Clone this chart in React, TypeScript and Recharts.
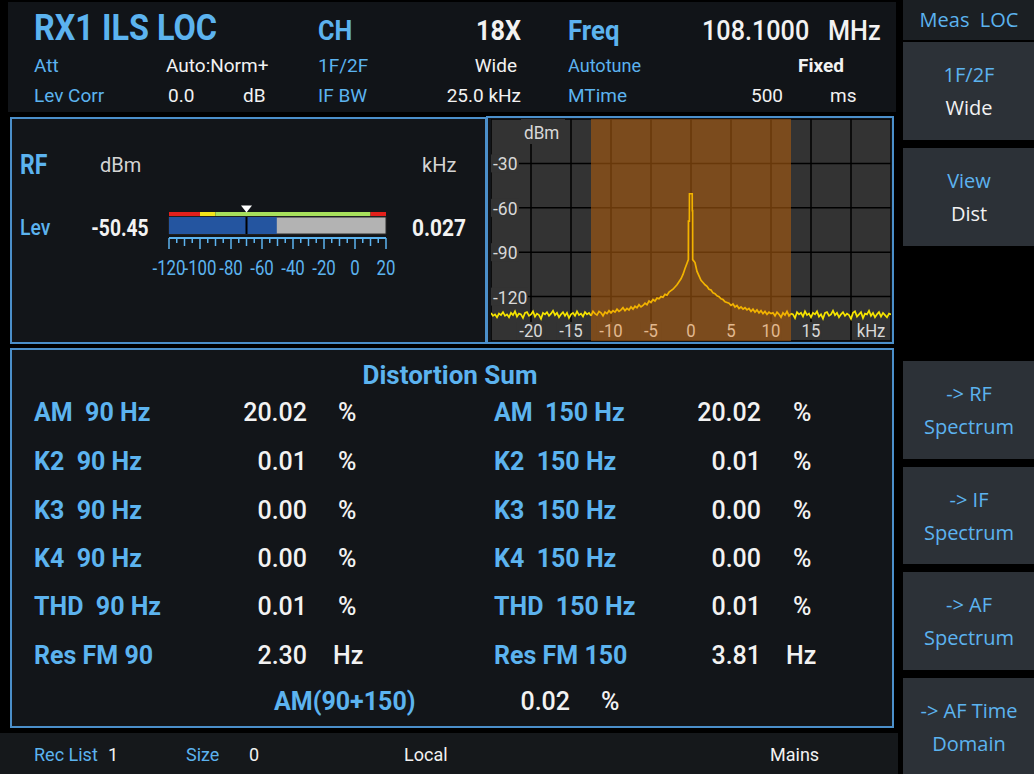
import React from "react";
import {
  LineChart,
  Line,
  XAxis,
  YAxis,
  CartesianGrid,
  ReferenceArea,
  ReferenceLine,
  ReferenceDot,
  ComposedChart,
} from "recharts";

const W = 1034;
const H = 774;
const BLUE = "#5cb3ef";
const WHITE = "#f2f2f2";
const GREY_TXT = "#d4d4d4";
const PANEL = "#121519";
const BORDER = "#4b8fca";
const FONT = "Roboto, 'Noto Sans', sans-serif";
const KEY_FONT = "'Open Sans', 'Noto Sans', sans-serif";

// IF spectrum trace (kHz offset from carrier, dBm)
const traceKHz = [
  -25, -24.75, -24.5, -24.25, -24, -23.75, -23.5, -23.25, -23, -22.75,
  -22.5, -22.25, -22, -21.75, -21.5, -21.25, -21, -20.75, -20.5, -20.25,
  -20, -19.75, -19.5, -19.25, -19, -18.75, -18.5, -18.25, -18, -17.75,
  -17.5, -17.25, -17, -16.75, -16.5, -16.25, -16, -15.75, -15.5, -15.25,
  -15, -14.75, -14.5, -14.25, -14, -13.75, -13.5, -13.25, -13, -12.75,
  -12.5, -12.25, -12, -11.75, -11.5, -11.25, -11, -10.75, -10.5, -10.25,
  -10, -9.75, -9.5, -9.25, -9, -8.75, -8.5, -8.25, -8, -7.75,
  -7.5, -7.25, -7, -6.75, -6.5, -6.25, -6, -5.75, -5.5, -5.25,
  -5, -4.75, -4.5, -4.25, -4, -3.75, -3.5, -3.25, -3, -2.75,
  -2.5, -2.25, -2, -1.75, -1.5, -1.25,
  -1, -0.75, -0.5, -0.33, -0.32, -0.2, -0.19, 0.15, 0.16, 0.2, 0.21, 0.5, 0.75, 1,
  1.25, 1.5, 1.75, 2, 2.25, 2.5, 2.75, 3, 3.25, 3.5,
  3.75, 4, 4.25, 4.5, 4.75, 5, 5.25, 5.5, 5.75, 6,
  6.25, 6.5, 6.75, 7, 7.25, 7.5, 7.75, 8, 8.25, 8.5,
  8.75, 9, 9.25, 9.5, 9.75, 10,
  10.25, 10.5, 10.75, 11, 11.25, 11.5, 11.75, 12, 12.25, 12.5,
  12.75, 13, 13.25, 13.5, 13.75, 14, 14.25, 14.5, 14.75, 15,
  15.25, 15.5, 15.75, 16, 16.25, 16.5, 16.75, 17, 17.25, 17.5,
  17.75, 18, 18.25, 18.5, 18.75, 19, 19.25, 19.5, 19.75, 20,
  20.25, 20.5, 20.75, 21, 21.25, 21.5, 21.75, 22, 22.25, 22.5,
  22.75, 23, 23.25, 23.5, 23.75, 24, 24.25, 24.5, 24.75, 25,
];
const traceDbm = [
  -131, -133, -132, -134, -131.5, -132.5, -130.5, -133, -132, -134,
  -131, -132.5, -130, -133.5, -131.5, -132, -134.5, -131, -130.5, -133,
  -132, -130, -133.5, -131.5, -132.5, -135, -131, -132, -130.5, -133,
  -131.5, -129.5, -132.5, -131, -134, -132, -130.5, -133, -131, -134.5,
  -132, -131, -133, -130, -132.5, -131.5, -133.5, -130.5, -132, -131,
  -133, -130, -131.5, -132.5, -130, -131, -133, -130.5, -131.5, -129.5,
  -131, -129.5, -130.5, -128.5, -130, -129, -127.5, -129.5, -128, -129,
  -127, -128.5, -126.5, -127.5, -125.5, -127, -126, -124.5, -125.5, -123,
  -124, -122, -123, -121, -121.5, -120, -120.5, -118.5, -119, -117,
  -116, -115, -113.5, -112, -110, -108,
  -105, -101, -97.5, -95, -69, -69, -50.5, -50.5, -62, -62, -95, -97, -103, -106,
  -109, -110.5, -112, -113, -115, -115.5, -117.5, -118, -119.5, -120,
  -121.5, -122, -123.5, -124, -124.5, -126, -125, -127, -126, -128,
  -127, -128.5, -127.5, -129, -128, -130, -128.5, -130.5, -129, -131,
  -129.5, -131.5, -130, -132, -130.5, -131.5,
  -131, -133, -130.5, -132, -134, -131, -132.5, -130, -133, -131.5,
  -132, -134.5, -130.5, -132, -131, -133.5, -130, -132.5, -131.5, -134,
  -131, -132, -130, -133.5, -132, -135, -131, -130.5, -133, -132,
  -129.5, -132.5, -131, -134, -132, -130.5, -133, -131.5, -132.5, -135,
  -131, -130, -133.5, -132, -130.5, -134.5, -131.5, -132, -129.5, -133,
  -131, -134, -132, -130.5, -133.5, -131, -132.5, -134, -131.5, -132,
];
const filterBandKHz = [-12.5, 12.5];
const specXTicks = [-20, -15, -10, -5, 0, 5, 10, 15, 20];
const specYTicks = [-30, -60, -90, -120];

// RF level bargraph
const meterLevelDbm = -50.45;
const meterRefDbm = -70;
const meterTicks = [
  -120, -115, -110, -105, -100, -95, -90, -85, -80, -75, -70, -65, -60, -55, -50,
  -45, -40, -35, -30, -25, -20, -15, -10, -5, 0, 5, 10, 15, 20,
];
const meterLimitFrom = [-120, -100, -90, 10];
const meterLimitTo = [-100, -90, 10, 20];
const meterLimitColor = ["#e3201b", "#f2e41a", "#a8e05c", "#e3201b"];

// distortion table
const leftLabels = ["AM  90 Hz", "K2  90 Hz", "K3  90 Hz", "K4  90 Hz", "THD  90 Hz", "Res FM 90"];
const leftValues = ["20.02", "0.01", "0.00", "0.00", "0.01", "2.30"];
const leftUnits = ["%", "%", "%", "%", "%", "Hz"];
const rightLabels = ["AM  150 Hz", "K2  150 Hz", "K3  150 Hz", "K4  150 Hz", "THD  150 Hz", "Res FM 150"];
const rightValues = ["20.02", "0.01", "0.00", "0.00", "0.01", "3.81"];
const rightUnits = ["%", "%", "%", "%", "%", "Hz"];
const rowY = [412, 461, 510, 558, 606, 655];

const softkeys = [
  { top: 42, h: 98, a: "1F/2F", b: "Wide", bc: WHITE },
  { top: 148, h: 98, a: "View", b: "Dist", bc: WHITE },
  { top: 361, h: 98, a: "-> RF", b: "Spectrum", bc: BLUE },
  { top: 467, h: 97, a: "-> IF", b: "Spectrum", bc: BLUE },
  { top: 572, h: 98, a: "-> AF", b: "Spectrum", bc: BLUE },
  { top: 678, h: 96, a: "-> AF Time", b: "Domain", bc: BLUE },
];

const traceRows = traceKHz.map((f, i) => ({
  f,
  outer: f <= filterBandKHz[0] || f >= filterBandKHz[1] ? traceDbm[i] : null,
  inner: f >= filterBandKHz[0] && f <= filterBandKHz[1] ? traceDbm[i] : null,
}));

type TProps = {
  t: string;
  x: number;
  y: number;
  size: number;
  color?: string;
  weight?: number;
  align?: "left" | "right" | "center";
  sx?: number;
  font?: string;
};

function T({ t, x, y, size, color = WHITE, weight = 400, align = "left", sx = 1, font = FONT }: TProps) {
  const st: React.CSSProperties = {
    position: "absolute",
    top: y - size / 2,
    height: size,
    lineHeight: `${size}px`,
    fontSize: size,
    fontFamily: font,
    fontWeight: weight,
    color,
    whiteSpace: "pre",
    transform: `scaleX(${sx})`,
  };
  if (align === "left") {
    st.left = x;
    st.transformOrigin = "left center";
  } else if (align === "right") {
    st.right = W - x;
    st.transformOrigin = "right center";
  } else {
    st.left = x - 300;
    st.width = 600;
    st.textAlign = "center";
    st.transformOrigin = "center center";
  }
  return <div style={st}>{t}</div>;
}

function Box({ x, y, w, h, bg = PANEL, border }: { x: number; y: number; w: number; h: number; bg?: string; border?: string }) {
  return (
    <div
      style={{
        position: "absolute",
        left: x,
        top: y,
        width: w,
        height: h,
        boxSizing: "border-box",
        background: bg,
        border: border ? `2px solid ${border}` : undefined,
      }}
    />
  );
}

const BAND_MIX = "#7b4b1d";
const SPEC_H = 222;

// labels sit inside the plot, on a small box that hides the grid behind them
function SpecXTick(props: any) {
  const { x, payload } = props;
  const v = payload.value;
  const label = v === 20 ? "kHz" : String(v);
  const cx = v === 20 ? x + 20 : x;
  const inBand = v > filterBandKHz[0] && v < filterBandKHz[1];
  const w = label.length * 8.5 + 4;
  return (
    <g>
      <rect x={cx - w / 2} y={SPEC_H - 19} width={w} height={18} fill={inBand ? BAND_MIX : "#333333"} />
      <text
        transform={`translate(${cx},${SPEC_H - 4}) scale(0.88,1)`}
        textAnchor="middle"
        fontSize={19}
        fontFamily={FONT}
        fill={inBand ? "#e2b88e" : "#d8d8d8"}
      >
        {label}
      </text>
    </g>
  );
}

function SpecYTick(props: any) {
  const { y, payload } = props;
  const label = String(payload.value);
  const w = label.length * 9 + 1;
  return (
    <g>
      <rect x={0} y={y - 9} width={w} height={18} fill="#333333" />
      <text transform={`translate(2,${y + 7}) scale(0.92,1)`} fontSize={19} fontFamily={FONT} fill="#d8d8d8">
        {label}
      </text>
    </g>
  );
}

function MeterTick(props: any) {
  const { x, y, payload } = props;
  const v = payload.value;
  const len = v % 20 === 0 ? 11 : v % 10 === 0 ? 8 : 5;
  return (
    <g>
      <line x1={x} x2={x} y1={y} y2={y + len} stroke={BLUE} strokeWidth={1.5} />
      {v % 20 === 0 && (
        <text
          transform={`translate(${x},${y + 37}) scale(0.8,1)`}
          textAnchor="middle"
          fontSize={21}
          fontFamily={FONT}
          fill={BLUE}
        >
          {v}
        </text>
      )}
    </g>
  );
}

function Marker(props: any) {
  const { cx, cy } = props;
  return <polygon points={`${cx - 5.5},${cy - 3.5} ${cx + 5.5},${cy - 3.5} ${cx},${cy + 3.5}`} fill="#ffffff" />;
}

function Spectrum() {
  return (
    <div style={{ position: "absolute", left: 491, top: 119 }}>
      <LineChart width={400} height={SPEC_H} data={traceRows} margin={{ top: 0, right: 0, bottom: 0, left: 0 }}>
        <CartesianGrid fill="#333333" stroke="#000000" strokeWidth={1.5} />
        <ReferenceArea
          x1={filterBandKHz[0]}
          x2={filterBandKHz[1]}
          fill="#a85a10"
          fillOpacity={0.62}
          stroke="none"
        />
        <Line dataKey="outer" stroke="#f6e400" strokeWidth={1.7} dot={false} isAnimationActive={false} />
        <Line dataKey="inner" stroke="#f2b300" strokeWidth={1.7} dot={false} isAnimationActive={false} />
        <XAxis
          dataKey="f"
          type="number"
          domain={[-25, 25]}
          ticks={specXTicks}
          interval={0}
          mirror
          tickSize={0}
          tickMargin={0}
          axisLine={false}
          tickLine={false}
          allowDataOverflow
          tick={(p: any) => <SpecXTick {...p} />}
        />
        <YAxis
          type="number"
          domain={[-150, 0]}
          ticks={specYTicks}
          interval={0}
          mirror
          tickSize={0}
          tickMargin={0}
          axisLine={false}
          tickLine={false}
          allowDataOverflow
          tick={(p: any) => <SpecYTick {...p} />}
        />
      </LineChart>
    </div>
  );
}

function Meter() {
  return (
    <div style={{ position: "absolute", left: 150, top: 200 }}>
      <ComposedChart
        width={260}
        height={80}
        data={[{ v: meterLevelDbm }]}
        margin={{ top: 5, right: 24, bottom: 0, left: 19 }}
      >
        <XAxis
          dataKey="v"
          type="number"
          domain={[-120, 20]}
          ticks={meterTicks}
          interval={0}
          height={42}
          tickSize={0}
          tickMargin={0}
          axisLine={{ stroke: BLUE, strokeWidth: 2 }}
          tickLine={false}
          allowDataOverflow
          tick={(p: any) => <MeterTick {...p} />}
        />
        <YAxis type="number" domain={[0, 33]} hide allowDataOverflow />
        {meterLimitFrom.map((from, i) => (
          <ReferenceArea
            key={i}
            x1={from}
            x2={meterLimitTo[i]}
            y1={22}
            y2={26}
            fill={meterLimitColor[i]}
            fillOpacity={1}
            stroke="none"
          />
        ))}
        <ReferenceArea x1={-120} x2={20} y1={4} y2={21} fill="#b3b3b3" fillOpacity={1} stroke="#2a2a2a" />
        <ReferenceArea x1={-120} x2={meterLevelDbm} y1={4} y2={21} fill="#2455a0" fillOpacity={1} stroke="none" />
        <ReferenceLine
          segment={[
            { x: meterRefDbm, y: 4 },
            { x: meterRefDbm, y: 21 },
          ]}
          stroke="#000000"
          strokeWidth={2}
        />
        <ReferenceDot x={meterRefDbm} y={29} r={5} shape={(p: any) => <Marker {...p} />} />
      </ComposedChart>
    </div>
  );
}

export default function App() {
  return (
    <div
      style={{
        position: "fixed",
        left: 0,
        top: 0,
        width: W,
        height: H,
        background: "#000000",
        overflow: "hidden",
        fontFamily: FONT,
      }}
    >
      {/* header */}
      <Box x={8} y={2} w={888} h={110} bg="#111418" />
      <T t="RX1 ILS LOC" x={34} y={28} size={36} weight={700} color={BLUE} sx={0.9} />
      <T t="CH" x={318} y={31} size={28} weight={700} color={BLUE} sx={0.9} />
      <T t="18X" x={521} y={31} size={28} weight={700} align="right" sx={0.9} />
      <T t="Freq" x={568} y={31} size={28} weight={700} color={BLUE} sx={0.92} />
      <T t="108.1000" x={702} y={31} size={28} weight={500} sx={0.9} />
      <T t="MHz" x={828} y={31} size={28} weight={500} sx={0.9} />

      <T t="Att" x={34} y={65} size={19} color={BLUE} />
      <T t="Auto:Norm+" x={166} y={65} size={19} />
      <T t="1F/2F" x={318} y={65} size={19} color={BLUE} />
      <T t="Wide" x={517} y={65} size={19} align="right" />
      <T t="Autotune" x={568} y={65} size={19} color={BLUE} sx={0.95} />
      <T t="Fixed" x={844} y={65} size={19} weight={700} align="right" />

      <T t="Lev Corr" x={34} y={95} size={19} color={BLUE} />
      <T t="0.0" x={168} y={95} size={19} />
      <T t="dB" x={243} y={95} size={19} />
      <T t="IF BW" x={318} y={95} size={19} color={BLUE} />
      <T t="25.0 kHz" x={521} y={95} size={19} align="right" />
      <T t="MTime" x={568} y={95} size={19} color={BLUE} />
      <T t="500" x={783} y={95} size={19} align="right" />
      <T t="ms" x={830} y={95} size={19} />

      {/* RF level panel */}
      <Box x={10} y={117} w={477} h={227} border={BORDER} />
      <T t="RF" x={20} y={165} size={28} weight={700} color={BLUE} sx={0.82} />
      <T t="dBm" x={100} y={165} size={20} color={GREY_TXT} />
      <T t="kHz" x={422} y={165} size={20} color={GREY_TXT} />
      <T t="Lev" x={20} y={228} size={22} weight={500} color={BLUE} sx={0.88} />
      <T t="-50.45" x={148} y={228} size={24} weight={700} align="right" sx={0.8} />
      <T t="0.027" x={466} y={228} size={24} weight={700} align="right" sx={0.87} />
      <Meter />

      {/* IF spectrum panel */}
      <Box x={486} y={116} w={408} h={228} border={BORDER} />
      <Spectrum />
      <div
        style={{
          position: "absolute",
          left: 521,
          top: 119,
          width: 44,
          height: 25,
          background: "#333333",
        }}
      />
      <T t="dBm" x={524} y={132} size={19} color="#d8d8d8" sx={0.9} />

      {/* distortion panel */}
      <Box x={10} y={348} w={884} h={380} border={BORDER} />
      <T t="Distortion Sum" x={450} y={375} size={26} weight={700} color={BLUE} align="center" />
      {rowY.map((y, i) => (
        <React.Fragment key={i}>
          <T t={leftLabels[i]} x={34} y={y} size={25} weight={700} color={BLUE} />
          <T t={leftValues[i]} x={307} y={y} size={25} weight={500} align="right" />
          <T t={leftUnits[i]} x={leftUnits[i] === "Hz" ? 333 : 338} y={y} size={25} weight={500} />
          <T t={rightLabels[i]} x={494} y={y} size={25} weight={700} color={BLUE} />
          <T t={rightValues[i]} x={761} y={y} size={25} weight={500} align="right" />
          <T t={rightUnits[i]} x={rightUnits[i] === "Hz" ? 786 : 793} y={y} size={25} weight={500} />
        </React.Fragment>
      ))}
      <T t="AM(90+150)" x={274} y={701} size={25} weight={700} color={BLUE} />
      <T t="0.02" x={570} y={701} size={25} weight={500} align="right" />
      <T t="%" x={601} y={701} size={25} weight={500} />

      {/* status bar */}
      <Box x={0} y={733} w={898} h={41} bg="#15181b" />
      <T t="Rec List" x={34} y={755} size={18} color={BLUE} />
      <T t="1" x={108} y={755} size={18} />
      <T t="Size" x={186} y={755} size={18} color={BLUE} />
      <T t="0" x={249} y={755} size={18} />
      <T t="Local" x={404} y={755} size={18} />
      <T t="Mains" x={770} y={755} size={18} />

      {/* softkeys */}
      <Box x={903} y={0} w={131} h={40} bg="#1b1f23" />
      <T t="Meas  LOC" x={969} y={20} size={20} color={BLUE} align="center" font={KEY_FONT} />
      {softkeys.map((k, i) => (
        <React.Fragment key={i}>
          <Box x={903} y={k.top} w={131} h={k.h} bg="#2c3137" />
          <T t={k.a} x={969} y={k.top + 33} size={20} color={BLUE} align="center" font={KEY_FONT} />
          <T t={k.b} x={969} y={k.top + 66} size={20} color={k.bc} align="center" font={KEY_FONT} />
        </React.Fragment>
      ))}
    </div>
  );
}
